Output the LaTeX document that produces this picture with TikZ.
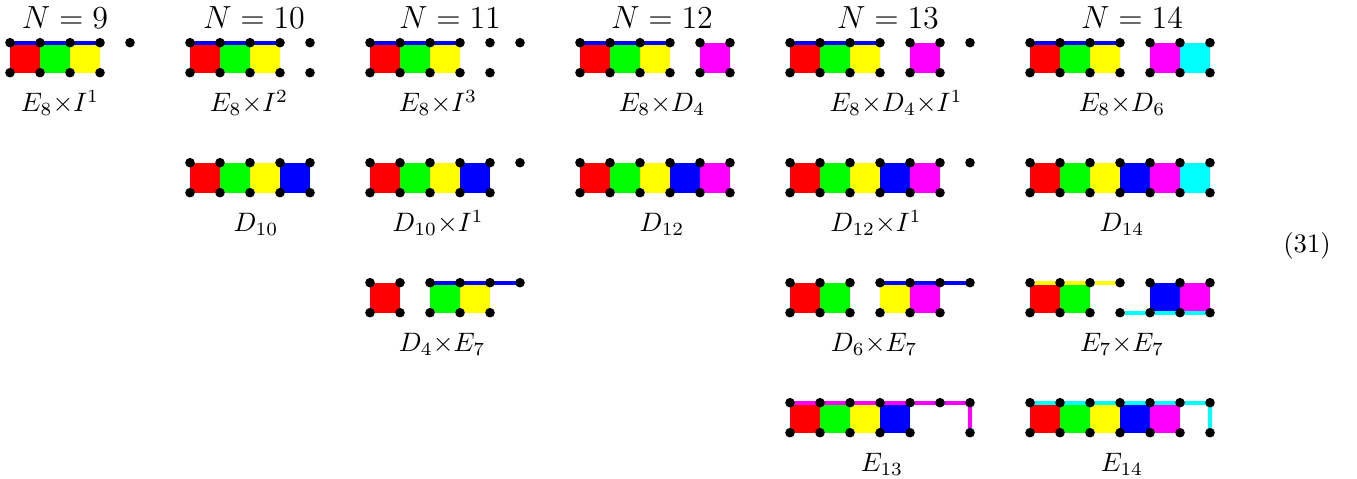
\documentclass[tikz,border=0pt]{standalone}
\definecolor{cR}{RGB}{255,0,0}
\definecolor{cG}{RGB}{0,255,0}
\definecolor{cY}{RGB}{255,255,0}
\definecolor{cB}{RGB}{0,0,255}
\definecolor{cM}{RGB}{255,0,255}
\definecolor{cC}{RGB}{0,255,255}
\begin{document}
\begin{tikzpicture}[x=0.375pt,y=-0.375pt,
  panel/.style 2 args={shift={(#1,#2)},x=11.25pt,y=-11.25pt},
  bar/.style={draw=#1,line width=1.55pt},
  lab/.style={anchor=base,inner sep=0pt},
  ttl/.style={anchor=base,inner sep=0pt,font=\large}]
\newcommand\mycells[1]{\foreach \i/\c in {#1} {\fill[\c] (\i,0) rectangle (\i+1,1);}}
\newcommand\topdots[1]{\foreach \i in {#1} {\fill (\i,0) circle[radius=1.8pt];}}
\newcommand\botdots[1]{\foreach \i in {#1} {\fill (\i,1) circle[radius=1.8pt];}}
\useasboundingbox (0,0) rectangle (1357,479);
% titles
\node[ttl] (t9)  at (65,28.3)   {$N=9$};
\node[ttl] (t10) at (254,28.3)  {$N=10$};
\node[ttl] (t11) at (450,28.3)  {$N=11$};
\node[ttl] (t12) at (662,28.3)  {$N=12$};
\node[ttl] (t13) at (888,28.3)  {$N=13$};
\node[ttl] (t14) at (1132,28.3) {$N=14$};
% ---------- row 1
\begin{scope}[panel={10}{42.7}]
  \mycells{0/cR,1/cG,2/cY}
  \draw[bar=cB] (0,0) -- (3,0);
  \topdots{0,...,4} \botdots{0,...,3}
\end{scope}
\begin{scope}[panel={190}{42.7}]
  \mycells{0/cR,1/cG,2/cY}
  \draw[bar=cB] (0,0) -- (3,0);
  \topdots{0,...,4} \botdots{0,...,4}
\end{scope}
\begin{scope}[panel={370}{42.7}]
  \mycells{0/cR,1/cG,2/cY}
  \draw[bar=cB] (0,0) -- (3,0);
  \topdots{0,...,5} \botdots{0,...,4}
\end{scope}
\begin{scope}[panel={580}{42.7}]
  \mycells{0/cR,1/cG,2/cY,4/cM}
  \draw[bar=cB] (0,0) -- (3,0);
  \topdots{0,...,5} \botdots{0,1,2,3,4,5}
\end{scope}
\begin{scope}[panel={790}{42.7}]
  \mycells{0/cR,1/cG,2/cY,4/cM}
  \draw[bar=cB] (0,0) -- (3,0);
  \topdots{0,...,6} \botdots{0,...,5}
\end{scope}
\begin{scope}[panel={1030}{42.7}]
  \mycells{0/cR,1/cG,2/cY,4/cM,5/cC}
  \draw[bar=cB] (0,0) -- (3,0);
  \topdots{0,...,6} \botdots{0,...,6}
\end{scope}
\node[lab] (l1a) at (60,111.7)   {$E_8{\times}I^1$};
\node[lab] (l1b) at (249,111.7)  {$E_8{\times}I^2$};
\node[lab] (l1c) at (438,111.7)  {$E_8{\times}I^3$};
\node[lab] (l1d) at (662,111.7)  {$E_8{\times}D_4$};
\node[lab] (l1e) at (896,111.7)  {$E_8{\times}D_4{\times}I^1$};
\node[lab] (l1f) at (1122,111.7) {$E_8{\times}D_6$};
% ---------- row 2
\begin{scope}[panel={190}{162.7}]
  \mycells{0/cR,1/cG,2/cY,3/cB}
  \topdots{0,...,4} \botdots{0,...,4}
\end{scope}
\begin{scope}[panel={370}{162.7}]
  \mycells{0/cR,1/cG,2/cY,3/cB}
  \topdots{0,...,5} \botdots{0,...,4}
\end{scope}
\begin{scope}[panel={580}{162.7}]
  \mycells{0/cR,1/cG,2/cY,3/cB,4/cM}
  \topdots{0,...,5} \botdots{0,...,5}
\end{scope}
\begin{scope}[panel={790}{162.7}]
  \mycells{0/cR,1/cG,2/cY,3/cB,4/cM}
  \topdots{0,...,6} \botdots{0,...,5}
\end{scope}
\begin{scope}[panel={1030}{162.7}]
  \mycells{0/cR,1/cG,2/cY,3/cB,4/cM,5/cC}
  \topdots{0,...,6} \botdots{0,...,6}
\end{scope}
\node[lab] (l2b) at (256,231.7)  {$D_{10}$};
\node[lab] (l2c) at (438,231.7)  {$D_{10}{\times}I^1$};
\node[lab] (l2d) at (662,231.7)  {$D_{12}$};
\node[lab] (l2e) at (876,231.7)  {$D_{12}{\times}I^1$};
\node[lab] (l2f) at (1122,231.7) {$D_{14}$};
% ---------- row 3
\begin{scope}[panel={370}{282.7}]
  \mycells{0/cR,2/cG,3/cY}
  \draw[bar=cB] (2,0) -- (5,0);
  \topdots{0,1,2,3,4,5} \botdots{0,1,2,3,4}
\end{scope}
\begin{scope}[panel={790}{282.7}]
  \mycells{0/cR,1/cG,3/cY,4/cM}
  \draw[bar=cB] (3,0) -- (6,0);
  \topdots{0,...,6} \botdots{0,...,5}
\end{scope}
\begin{scope}[panel={1030}{282.7}]
  \mycells{0/cR,1/cG,4/cB,5/cM}
  \draw[bar=cY] (0,0) -- (3,0);
  \draw[bar=cC] (3,1) -- (6,1);
  \topdots{0,1,2,3,4,5,6} \botdots{0,...,6}
\end{scope}
\node[lab] (l3c) at (442,351.7)  {$D_4{\times}E_7$};
\node[lab] (l3e) at (874,351.7)  {$D_6{\times}E_7$};
\node[lab] (l3f) at (1122,351.7) {$E_7{\times}E_7$};
% ---------- row 4
\begin{scope}[panel={790}{402.7}]
  \mycells{0/cR,1/cG,2/cY,3/cB}
  \draw[bar=cM] (0,0) -- (6,0) -- (6,1);
  \topdots{0,...,6} \botdots{0,1,2,3,4,6}
\end{scope}
\begin{scope}[panel={1030}{402.7}]
  \mycells{0/cR,1/cG,2/cY,3/cB,4/cM}
  \draw[bar=cC] (0,0) -- (6,0) -- (6,1);
  \topdots{0,...,6} \botdots{0,...,6}
\end{scope}
\node[lab] (l4e) at (882,471.7)  {$E_{13}$};
\node[lab] (l4f) at (1122,471.7) {$E_{14}$};
% equation number
\node[lab] (eq) at (1307,253) {(31)};
\end{tikzpicture}
\end{document}
